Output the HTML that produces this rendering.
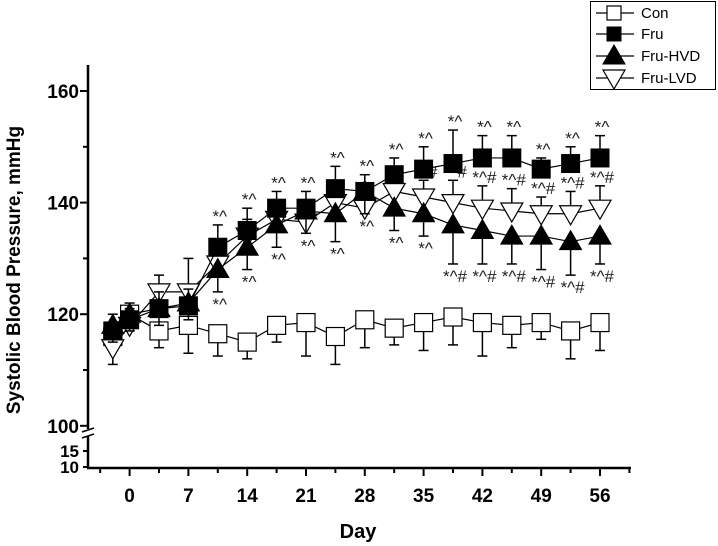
<!DOCTYPE html>
<html><head><meta charset="utf-8"><style>
html,body{margin:0;padding:0;background:#fff;}
svg{display:block;font-family:"Liberation Sans",Arial,sans-serif;}
</style></head><body>
<svg id="chart" width="718" height="546" viewBox="0 0 718 546"></svg>
<script>
const days=[-2,0,3.5,7,10.5,14,17.5,21,24.5,28,31.5,35,38.5,42,45.5,49,52.5,56];
const conVals=[116,120,117,118,116.5,115,118,118.5,116,119,117.5,118.5,119.5,118.5,118,118.5,117,118.5];
const conErr=[5,3,3,5,4,3,3,6,5,5,3,5,5,6,4,3,5,5];
const fruVals=[117,119,121,121.5,132,135,139,139,142.5,142,145,146,147,148,148,146,147,148];
const fruErr=[3,3,3,3,4,4,3,3,4,3,3,4,6,4,4,2,3,4];
const hvdVals=[118,120,121,122,128,132,136,138.5,138,142,139,138,136,135,134,134,133,134];
const hvdErr=[3,3,3,3,4,4,4,4,5,4,4,4,7,6,5,6,6,5];
const lvdVals=[114,118,124,124,129,134,137,136.5,140,139,142,141,140,139,138.5,138,138,139];
const lvdErr=[4,3,3,6,3,3,3,3,3,3,3,3,4,4,4,3,4,4];
const fruStars=["","","","","*^","*^","*^","*^","*^","*^","*^","*^","*^","*^","*^","*^","*^","*^"];
const hvdStars=["","","","","*^","*^","*^","*^","*^","*^","*^","*^","*^#","*^#","*^#","*^#","*^#","*^#"];
const lvdStars=["","","","","","","","","","","","*^#","*^#","*^#","*^#","*^#","*^#","*^#"];
const xTicks=[0,7,14,21,28,35,42,49,56];
const yTicksUpper=[100,120,140,160];
const yTicksLower=[10,15];

const svg=document.getElementById('chart');
const NS='http://www.w3.org/2000/svg';
function X(d){return 129.6+d*8.4;}
function Y(v){return v>=100?91+(160-v)*5.58:467-(v-10)*3.2;}
function mk(tag,attrs,parent){const e=document.createElementNS(NS,tag);for(const k in attrs)e.setAttribute(k,attrs[k]);(parent||svg).appendChild(e);return e;}

const axes=mk('g',{});


mk('line',{x1:88,y1:65,x2:88,y2:429,stroke:'#000','stroke-width':2.5},axes);
mk('line',{x1:88,y1:436,x2:88,y2:468,stroke:'#000','stroke-width':2.5},axes);
mk('line',{x1:82,y1:432,x2:94,y2:428,stroke:'#000','stroke-width':1.5},axes);
mk('line',{x1:82,y1:438,x2:94,y2:434,stroke:'#000','stroke-width':1.5},axes);
mk('line',{x1:87,y1:468,x2:631,y2:468,stroke:'#000','stroke-width':2.5},axes);
for(let d=-3.5;d<=59.6;d+=3.5){const major=xTicks.includes(d);mk('line',{x1:X(d),y1:468,x2:X(d),y2:major?476:473,stroke:'#000','stroke-width':2},axes);}
xTicks.forEach(t=>{const tx=mk('text',{x:X(t),y:502,'text-anchor':'middle','font-size':19,'font-weight':'bold'},axes);tx.textContent=t;
});
for(let v=100;v<=160;v+=10){mk('line',{x1:v%20===0?80:83,y1:Y(v),x2:88,y2:Y(v),stroke:'#000','stroke-width':2},axes);}
yTicksUpper.forEach(v=>{const tx=mk('text',{x:79,y:Y(v)+7,'text-anchor':'end','font-size':19,'font-weight':'bold'},axes);tx.textContent=v;
});
yTicksLower.forEach(v=>{mk('line',{x1:83,y1:Y(v),x2:88,y2:Y(v),stroke:'#000','stroke-width':2},axes);
const tx=mk('text',{x:79,y:Y(v)+6,'text-anchor':'end','font-size':17,'font-weight':'bold'},axes);tx.textContent=v;
});
const yt=mk('text',{x:0,y:0,transform:'translate(20,270) rotate(-90)','text-anchor':'middle','font-size':19,'font-weight':'bold'});
yt.textContent='Systolic Blood Pressure, mmHg';

const xt=mk('text',{x:358,y:538,'text-anchor':'middle','font-size':20,'font-weight':'bold'});
xt.textContent='Day';


function marker(type,cx,cy,g){
  if(type==='sq-open')return mk('rect',{x:cx-9,y:cy-9,width:18,height:18,fill:'#fff',stroke:'#000','stroke-width':1.2},g);
  if(type==='sq-fill')return mk('rect',{x:cx-9,y:cy-9,width:18,height:18,fill:'#000',stroke:'#000'},g);
  if(type==='tri-up')return mk('polygon',{points:`${cx},${cy-11} ${cx+11},${cy+8} ${cx-11},${cy+8}`,fill:'#000',stroke:'#000'},g);
  return mk('polygon',{points:`${cx-11},${cy-8} ${cx+11},${cy-8} ${cx},${cy+11}`,fill:'#fff',stroke:'#000','stroke-width':1.2},g);
}
function series(name,vals,err,dir,type,stars,starDy){
  const g=mk('g',{});
  
  
  mk('polyline',{points:days.map((d,i)=>X(d)+','+Y(vals[i])).join(' '),fill:'none',stroke:'#000','stroke-width':1.2},g);
  days.forEach((d,i)=>{const x=X(d),y=Y(vals[i]),ye=Y(vals[i]+dir*err[i]);
    const l=mk('line',{x1:x,y1:y,x2:x,y2:ye,stroke:'#000','stroke-width':1.5},g);
    
    mk('line',{x1:x-5,y1:ye,x2:x+5,y2:ye,stroke:'#000','stroke-width':1.5},g);});
  days.forEach((d,i)=>{const m=marker(type,X(d),Y(vals[i]),g);
    });
  if(stars)days.forEach((d,i)=>{if(!stars[i])return;
    const yb=Y(vals[i]+dir*err[i]);
    const t=mk('text',{x:X(d)+2,y:yb+starDy,'text-anchor':'middle','font-size':17,fill:'#222'},g);t.textContent=stars[i];
    });
}
series('con',conVals,conErr,-1,'sq-open',null,0);
series('fru-lvd',lvdVals,lvdErr,1,'tri-down',lvdStars,-3);
series('fru-hvd',hvdVals,hvdErr,-1,'tri-up',hvdStars,18);
series('fru',fruVals,fruErr,1,'sq-fill',fruStars,-3);

const lg=mk('g',{});

mk('rect',{x:590.5,y:1.5,width:125,height:88,fill:'#fff',stroke:'#000','stroke-width':1},lg);
const ln=['Con','Fru','Fru-HVD','Fru-LVD'],lt=['sq-open','sq-fill','tri-up','tri-down'],ly=[13,34,56,78];
ln.forEach((n,i)=>{const e=mk('g',{},lg);
  
  mk('line',{x1:596,y1:ly[i],x2:634,y2:ly[i],stroke:'#000','stroke-width':1.2},e);
  const m=marker(lt[i],614,ly[i],e);
  if(lt[i]==='sq-open'||lt[i]==='sq-fill'){m.setAttribute('x',607);m.setAttribute('y',ly[i]-7);m.setAttribute('width',14);m.setAttribute('height',14);}
  const t=mk('text',{x:641,y:ly[i]+5,'font-size':15},e);t.textContent=n;});
</script>
</body></html>
